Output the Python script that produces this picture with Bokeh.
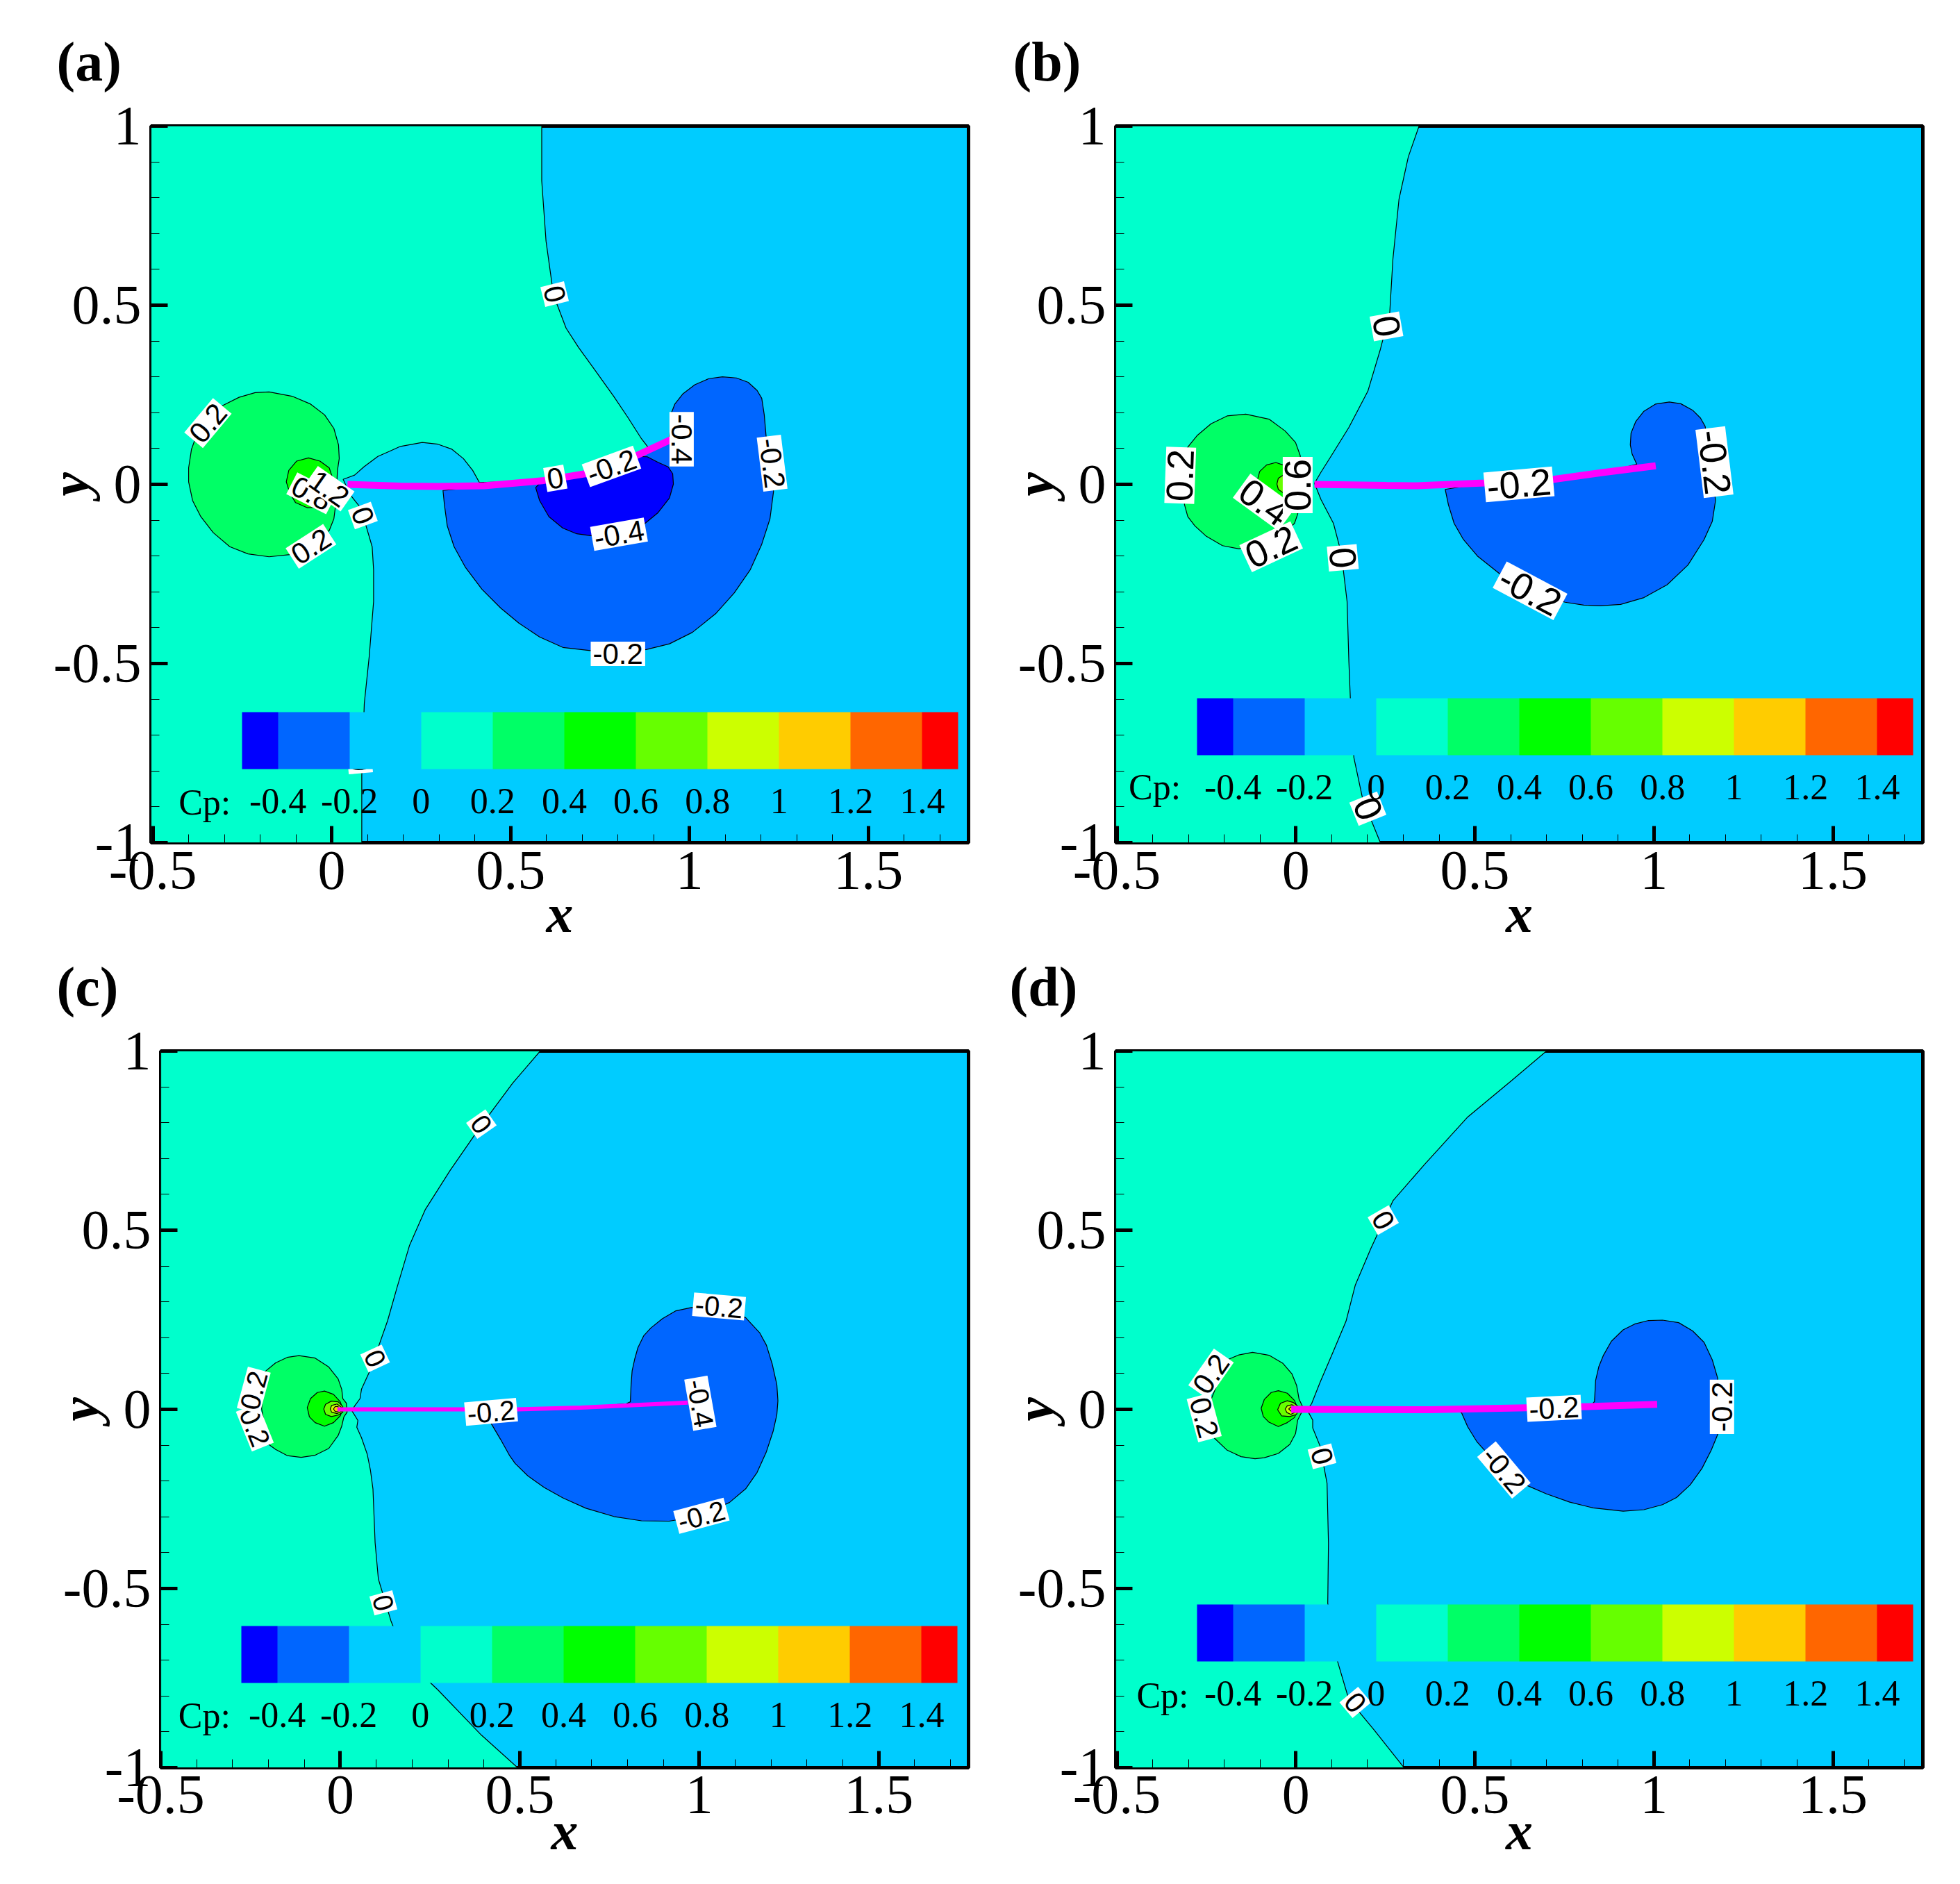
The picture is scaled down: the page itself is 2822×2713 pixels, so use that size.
from bokeh.plotting import figure
from bokeh.layouts import column, row
from bokeh.models import Range1d, FixedTicker, ColorBar, LinearColorMapper, Label
from bokeh.core.properties import value
from bokeh.embed import file_html
from bokeh.resources import INLINE

# ------------------ shared values ------------------
band_colors = {"m04": "#0000ff", "m02": "#0066ff", "0": "#00ccff", "p0": "#00ffcc",
               "02": "#00ff66", "04": "#00ff00", "06": "#66ff00", "08": "#ccff00",
               "10": "#ffcc00", "12": "#ff6600", "14": "#ff0000"}
legend_levels = [-0.4, -0.2, 0, 0.2, 0.4, 0.6, 0.8, 1, 1.2, 1.4]
legend_labels = ["-0.4", "-0.2", "0", "0.2", "0.4", "0.6", "0.8", "1", "1.2", "1.4"]
legend_palette = ["#0000ff", "#0066ff", "#0066ff", "#00ccff", "#00ccff", "#00ffcc", "#00ffcc",
                  "#00ff66", "#00ff66", "#00ff00", "#00ff00", "#66ff00", "#66ff00", "#ccff00",
                  "#ccff00", "#ffcc00", "#ffcc00", "#ff6600", "#ff6600", "#ff0000"]
x_major = [-0.5, 0, 0.5, 1, 1.5]
x_major_labels = ["-0.5", "0", "0.5", "1", "1.5"]
y_major = [-1, -0.5, 0, 0.5, 1]
y_major_labels = ["-1", "-0.5", "0", "0.5", "1"]
x_minor = [-0.4, -0.3, -0.2, -0.1, 0.1, 0.2, 0.3, 0.4, 0.6, 0.7, 0.8, 0.9, 1.1, 1.2, 1.3, 1.4, 1.6, 1.7]
y_minor = [-0.9, -0.8, -0.7, -0.6, -0.4, -0.3, -0.2, -0.1, 0.1, 0.2, 0.3, 0.4, 0.6, 0.7, 0.8, 0.9]

# ------------------ panel (a) ------------------
a_foil = [(0.044, 0), (0.192, -0.005), (0.297, -0.006), (0.426, -0.004), (0.588, 0.01), (0.711, 0.03),
          (0.847, 0.078), (0.944, 0.123), (0.952, 0.126)]
a_zero = [(-0.505, 1), (0.587, 1), (0.587, 0.847), (0.599, 0.679), (0.62, 0.528), (0.655, 0.436), (0.69, 0.382),
          (0.737, 0.317), (0.788, 0.246), (0.827, 0.188), (0.866, 0.127), (0.884, 0.104), (0.847, 0.078),
          (0.711, 0.03), (0.588, 0.01), (0.413, 0.005), (0.394, 0.039), (0.368, 0.072), (0.336, 0.098), (0.297, 0.112),
          (0.253, 0.117), (0.192, 0.106), (0.161, 0.092), (0.129, 0.078),
          (0.09, 0.049), (0.064, 0.026), (0.032, 0.014), (0.051, -0.028), (0.077, -0.061), (0.096, -0.116),
          (0.113, -0.174), (0.117, -0.238), (0.117, -0.327), (0.105, -0.478), (0.091, -0.612),
          (0.084, -0.813), (0.084, -1), (-0.505, -1)]
a_p02 = [(-0.175, 0.258), (-0.111, 0.246), (-0.059, 0.224), (-0.02, 0.194), (0.006, 0.156), (0.019, 0.11),
         (0.021, 0.072), (0.016, 0.039), (0.011, -0.057), (0.006, -0.096), (-0.007, -0.129), (-0.078, -0.18),
         (-0.117, -0.196), (-0.175, -0.202), (-0.234, -0.194), (-0.285, -0.174), (-0.331, -0.135),
         (-0.366, -0.09), (-0.389, -0.045), (-0.4, 0.007), (-0.4, 0.046), (-0.392, 0.098), (-0.376, 0.143),
         (-0.343, 0.188), (-0.305, 0.22), (-0.259, 0.243), (-0.214, 0.256)]
a_p04 = [(-0.127, 0.007), (-0.12, 0.039), (-0.098, 0.065), (-0.065, 0.074), (-0.033, 0.065), (-0.007, 0.046),
         (0.006, 0.007), (-0.001, -0.032), (-0.033, -0.064), (-0.069, -0.065), (-0.101, -0.051), (-0.117, -0.025)]
a_m02 = [(0.311, -0.017), (0.315, -0.057), (0.323, -0.116), (0.342, -0.174), (0.374, -0.232), (0.42, -0.293),
         (0.472, -0.345), (0.523, -0.387), (0.581, -0.426), (0.646, -0.455), (0.723, -0.464), (0.8, -0.467),
         (0.879, -0.461), (0.944, -0.445), (1.008, -0.413), (1.073, -0.361), (1.125, -0.303), (1.17, -0.238),
         (1.202, -0.167), (1.225, -0.096), (1.235, -0.019), (1.222, 0.059), (1.214, 0.136), (1.209, 0.194),
         (1.202, 0.24), (1.189, 0.262), (1.164, 0.285), (1.131, 0.297), (1.092, 0.3), (1.054, 0.295), (1.015, 0.278),
         (0.982, 0.253), (0.959, 0.224), (0.95, 0.201), (0.944, 0.13), (0.847, 0.078), (0.711, 0.03), (0.588, 0.01),
         (0.426, -0.006)]
a_m04 = [(0.57, -0.009), (0.581, -0.045), (0.607, -0.09), (0.646, -0.122), (0.685, -0.138), (0.724, -0.143),
         (0.8, -0.135), (0.872, -0.112), (0.911, -0.08), (0.944, -0.038), (0.955, 0.001), (0.953, 0.03), (0.94, 0.049),
         (0.911, 0.062), (0.882, 0.077), (0.847, 0.078), (0.711, 0.03), (0.588, 0.01)]
a_labels = [("0", 0.623, 0.531, -76), ("0.2", -0.346, 0.171, 50), ("0.2", -0.058, -0.173, 33),
            ("0.8", -0.056, -0.025, -27), ("1.2", -0.007, -0.012, -35), ("0", 0.087, -0.087, -70),
            ("0", 0.079, -0.778, -85), ("0", 0.625, 0.017, 10), ("-0.2", 0.782, 0.05, 20),
            ("-0.4", 0.978, 0.126, -90), ("-0.4", 0.803, -0.139, 10), ("-0.2", 0.8, -0.473, 0),
            ("-0.2", 1.231, 0.059, -83)]

# ------------------ panel (b) ------------------
b_foil = [(0.052, 0), (0.253, -0.003), (0.338, -0.004), (0.526, 0.004), (0.72, 0.014), (0.856, 0.033), (1.005, 0.052)]
b_zero = [(-0.503, 1), (0.344, 1), (0.314, 0.914), (0.288, 0.796), (0.271, 0.629), (0.262, 0.478), (0.236, 0.377),
          (0.201, 0.26), (0.148, 0.159), (0.096, 0.075), (0.07, 0.034), (0.052, 0.003), (0.07, -0.042),
          (0.105, -0.109), (0.127, -0.193), (0.143, -0.327), (0.148, -0.495), (0.152, -0.595), (0.162, -0.763),
          (0.187, -0.88), (0.236, -1), (-0.503, -1)]
b_p02 = [(-0.14, 0.196), (-0.075, 0.182), (-0.03, 0.149), (-0.001, 0.117), (0.012, 0.081), (0.018, 0.001),
         (0.005, -0.083), (-0.004, -0.109), (-0.061, -0.159), (-0.159, -0.18), (-0.205, -0.171), (-0.25, -0.145),
         (-0.282, -0.116), (-0.302, -0.09), (-0.311, -0.057), (-0.318, 0.001), (-0.302, 0.104), (-0.276, 0.136),
         (-0.237, 0.169), (-0.192, 0.191)]
b_p04 = [(-0.109, 0.007), (-0.101, 0.036), (-0.082, 0.054), (-0.056, 0.061), (-0.03, 0.052), (-0.01, 0.02),
         (-0.01, -0.03), (-0.037, -0.045), (-0.07, -0.05), (-0.101, -0.03)]
b_p06 = [(-0.053, 0.001), (-0.049, 0.017), (-0.035, 0.026), (-0.015, 0.02), (-0.015, -0.02), (-0.035, -0.024),
         (-0.049, -0.014)]
b_m02 = [(0.417, -0.014), (0.426, -0.057), (0.442, -0.109), (0.468, -0.154), (0.507, -0.2), (0.571, -0.251),
         (0.66, -0.3), (0.752, -0.329), (0.804, -0.337), (0.849, -0.339), (0.907, -0.335), (0.972, -0.316),
         (1.037, -0.28), (1.095, -0.225), (1.14, -0.154), (1.163, -0.103), (1.172, -0.045), (1.16, 0.052), (1.143, 0.162),
         (1.13, 0.185), (1.108, 0.207), (1.075, 0.225), (1.043, 0.23), (1.004, 0.224), (0.972, 0.204), (0.949, 0.175),
         (0.936, 0.143), (0.934, 0.11), (0.939, 0.085), (0.952, 0.056), (0.856, 0.033), (0.72, 0.014), (0.526, 0.004)]
b_labels = [("0", 0.253, 0.441, -80), ("0.2", -0.323, 0.025, 88), ("0.2", -0.069, -0.174, 25),
            ("0.4", -0.088, -0.05, -36), ("0.6", 0.005, -0.002, 90), ("0", 0.131, -0.205, -85),
            ("0", 0.201, -0.905, -68), ("-0.2", 0.623, 0, 5), ("-0.2", 0.654, -0.297, -28),
            ("-0.2", 1.169, 0.062, -83)]

# ------------------ panel (c) ------------------
c_foil = [(-0.008, 0), (0.272, 0), (0.491, 0), (0.671, 0.005), (0.968, 0.019)]
c_zero = [(-0.5, 1), (0.557, 1), (0.48, 0.91), (0.393, 0.793), (0.306, 0.667), (0.237, 0.558), (0.193, 0.458),
          (0.158, 0.34), (0.132, 0.248), (0.097, 0.148), (0.084, 0.111), (0.059, 0.056), (0.055, 0.03), (0.039, 0.008),
          (0.033, -0.005), (0.049, -0.031), (0.046, -0.05), (0.059, -0.079), (0.075, -0.125), (0.084, -0.17),
          (0.091, -0.222), (0.097, -0.372), (0.106, -0.473), (0.141, -0.59), (0.185, -0.7), (0.272, -0.783),
          (0.393, -0.909), (0.494, -1), (-0.5, -1)]
c_p02 = [(-0.215, 0.101), (-0.18, 0.13), (-0.148, 0.145), (-0.115, 0.15), (-0.07, 0.143), (-0.032, 0.118),
         (-0.006, 0.085), (0.004, 0.056), (0.007, 0.03), (0.017, 0.017), (0.019, -0.008), (0.01, -0.021),
         (0.004, -0.047), (-0.006, -0.073), (-0.032, -0.109), (-0.07, -0.128), (-0.109, -0.134), (-0.148, -0.129),
         (-0.18, -0.112), (-0.202, -0.096), (-0.219, 0.001)]
c_p04 = [(-0.092, 0.005), (-0.083, 0.03), (-0.064, 0.047), (-0.044, 0.051), (-0.019, 0.042), (0, 0.021), (0.007, 0.001),
         (0, -0.018), (-0.019, -0.037), (-0.044, -0.047), (-0.07, -0.037), (-0.086, -0.021)]
c_p06 = [(-0.046, 0.001), (-0.041, 0.014), (-0.025, 0.023), (-0.006, 0.021), (0.007, 0.008), (0.007, -0.008),
         (-0.006, -0.016), (-0.025, -0.02), (-0.041, -0.014)]
c_p08 = [(-0.028, 0.001), (-0.024, 0.011), (-0.009, 0.015), (0.004, 0.005), (0.004, -0.005), (-0.009, -0.012),
         (-0.024, -0.008)]
c_p10 = [(-0.019, 0.001), (-0.014, 0.008), (-0.006, 0.008), (-0.006, -0.007), (-0.014, -0.006)]
c_m02 = [(0.42, -0.039), (0.446, -0.083), (0.471, -0.128), (0.487, -0.151), (0.523, -0.186), (0.568, -0.218),
         (0.62, -0.247), (0.684, -0.276), (0.762, -0.299), (0.839, -0.311), (0.916, -0.312), (1.0, -0.298), (1.084, -0.26),
         (1.129, -0.222), (1.161, -0.176), (1.187, -0.118), (1.206, -0.06), (1.216, -0.015), (1.219, 0.024), (1.216, 0.069),
         (1.203, 0.127), (1.187, 0.179), (1.168, 0.214), (1.129, 0.256), (1.058, 0.282), (0.978, 0.284), (0.935, 0.275),
         (0.897, 0.253), (0.865, 0.227), (0.845, 0.205), (0.829, 0.172), (0.82, 0.14), (0.813, 0.108), (0.81, 0.069),
         (0.808, 0.021), (0.797, 0.016), (0.671, 0.005), (0.4, 0)]
c_labels = [("0", 0.393, 0.796, -55), ("0", 0.097, 0.142, -65), ("0", 0.12, -0.54, -75), ("-0.2", 1.055, 0.287, -5),
            ("-0.2", 0.42, -0.007, 5), ("-0.4", 1.003, 0.017, -80), ("-0.2", 1.006, -0.297, 15),
            ("0.2", -0.238, -0.05, -68), ("0.2", -0.241, 0.053, 75)]

# ------------------ panel (d) ------------------
d_foil = [(-0.013, 0), (0.377, -0.001), (0.571, 0.003), (0.83, 0.008), (1.009, 0.014)]
d_zero = [(-0.503, 1), (0.7, 1), (0.602, 0.917), (0.48, 0.816), (0.358, 0.682), (0.271, 0.582), (0.209, 0.448),
          (0.166, 0.347), (0.14, 0.246), (0.105, 0.163), (0.067, 0.074), (0.044, 0.016), (0.035, 0.003),
          (0.036, -0.01), (0.047, -0.03), (0.047, -0.052), (0.067, -0.101), (0.087, -0.206), (0.091, -0.374),
          (0.089, -0.541), (0.113, -0.692), (0.148, -0.81), (0.218, -0.894), (0.302, -1), (-0.503, -1)]
d_p02 = [(-0.192, 0.138), (-0.159, 0.152), (-0.121, 0.159), (-0.075, 0.151), (-0.037, 0.129), (-0.011, 0.099),
         (0.002, 0.067), (0.009, 0.028), (0.018, 0.009), (0.015, -0.01), (0.005, -0.03), (-0.001, -0.068),
         (-0.017, -0.098), (-0.049, -0.123), (-0.088, -0.135), (-0.114, -0.138), (-0.153, -0.132), (-0.192, -0.114),
         (-0.227, -0.081), (-0.245, 0.0), (-0.234, 0.035)]
d_p04 = [(-0.097, 0.003), (-0.088, 0.028), (-0.069, 0.047), (-0.049, 0.052), (-0.024, 0.045), (-0.004, 0.025),
         (0.006, 0.0), (-0.004, -0.023), (-0.024, -0.037), (-0.049, -0.048), (-0.075, -0.036), (-0.091, -0.02)]
d_p06 = [(-0.051, -0.001), (-0.043, 0.017), (-0.024, 0.024), (-0.007, 0.019), (0.009, 0.006), (0.002, -0.014),
         (-0.017, -0.02), (-0.04, -0.018)]
d_p08 = [(-0.03, 0.001), (-0.024, 0.01), (-0.011, 0.013), (-0.001, 0.006), (-0.001, -0.007), (-0.014, -0.014),
         (-0.025, -0.009)]
d_p10 = [(-0.02, 0.001), (-0.014, 0.007), (-0.005, 0.005), (-0.011, -0.007)]
d_m02 = [(0.463, -0.01), (0.48, -0.049), (0.506, -0.091), (0.532, -0.12), (0.649, -0.214), (0.7, -0.236), (0.765, -0.259),
         (0.83, -0.275), (0.914, -0.284), (0.972, -0.28), (1.024, -0.266), (1.063, -0.246), (1.101, -0.211), (1.134, -0.165),
         (1.16, -0.114), (1.179, -0.068), (1.182, 0.009), (1.178, 0.087), (1.163, 0.138), (1.14, 0.187), (1.108, 0.219),
         (1.069, 0.242), (1.024, 0.249), (0.985, 0.248), (0.946, 0.238), (0.914, 0.222), (0.881, 0.19), (0.859, 0.151),
         (0.846, 0.119), (0.837, 0.08), (0.834, 0.022), (0.83, 0.017), (0.83, 0.008), (0.571, 0.003), (0.45, 0)]
d_labels = [("0", 0.244, 0.528, -60), ("0", 0.073, -0.131, -75), ("0", 0.166, -0.818, -50), ("-0.2", 0.721, 0.003, 3),
            ("-0.2", 0.581, -0.169, -50), ("-0.2", 1.19, 0.007, 90), ("0.2", -0.237, 0.099, 55),
            ("0.2", -0.256, -0.023, -75)]


def panel(name, name_off, xr, regions, foil, foil_w, labels, label_px, cp_xy, bar_xy,
          w, h, borders, tick_so, lab_so, border_alpha):
    left, right, top, bottom = borders
    p = figure(title=name, width=w, height=h, x_range=Range1d(*xr), y_range=Range1d(-1, 1),
               output_backend="svg", toolbar_location=None,
               min_border_left=left, min_border_right=right, min_border_top=top, min_border_bottom=bottom,
               background_fill_color=band_colors["0"], border_fill_color="white", border_fill_alpha=border_alpha, tools="")
    p.title.text_font = "Liberation Serif"
    p.title.text_font_size = "80px"
    p.title.text_font_style = "bold"
    p.title.text_color = "black"
    p.title.align = "left"
    p.title.offset = name_off
    p.title.standoff = 98
    p.grid.visible = False
    p.outline_line_color = "black"
    p.outline_line_width = 5
    for ax, maj, lab, mnr, txt in ((p.xaxis[0], x_major, x_major_labels, x_minor, "x"),
                                   (p.yaxis[0], y_major, y_major_labels, y_minor, "y")):
        ax.ticker = FixedTicker(ticks=maj, minor_ticks=mnr)
        ax.major_label_overrides = dict(zip(maj, lab))
        ax.major_label_text_font = "Liberation Serif"
        ax.major_label_text_font_size = "80px"
        ax.major_label_text_color = "black"
        ax.major_tick_in = 24
        ax.major_tick_out = 0
        ax.minor_tick_in = 12
        ax.minor_tick_out = 0
        ax.major_tick_line_width = 5
        ax.minor_tick_line_width = 1
        ax.axis_line_color = None
        ax.axis_label = txt
        ax.axis_label_text_font = "Liberation Serif"
        ax.axis_label_text_font_style = "bold italic"
        ax.axis_label_text_font_size = "78px"
        ax.axis_label_text_color = "black"
    p.xaxis[0].major_label_standoff = tick_so
    p.xaxis[0].axis_label_standoff = lab_so
    p.yaxis[0].major_label_standoff = 14
    p.yaxis[0].major_label_orientation = "horizontal"
    p.yaxis[0].axis_label_standoff = -70

    for pts, col in regions:
        xs, ys = zip(*pts)
        p.patch(list(xs), list(ys), fill_color=col, line_color="black", line_width=1.2)
    fx, fy = zip(*foil)
    p.line(list(fx), list(fy), line_color="#ff00ff", line_width=foil_w)

    txt, lx, ly, ang = zip(*labels)
    p.text(list(lx), list(ly), text=list(txt), angle=list(ang), angle_units="deg",
           text_font=value("Liberation Sans"), text_font_size=label_px, text_color="black",
           text_align="center", text_baseline="middle", background_fill_color="white", padding=3)

    mapper = LinearColorMapper(palette=legend_palette, low=-0.5, high=1.5)
    cb = ColorBar(color_mapper=mapper, location=bar_xy, orientation="horizontal", width=1031, height=82,
                  padding=0, margin=0, background_fill_alpha=0, border_line_color=None, bar_line_color=None,
                  ticker=FixedTicker(ticks=legend_levels), major_tick_line_color=None, minor_tick_line_color=None,
                  major_label_overrides=dict(zip(legend_levels, legend_labels)),
                  major_label_text_font="Liberation Serif", major_label_text_font_size="52px",
                  major_label_text_color="black", label_standoff=28)
    p.add_layout(cb, "center")

    p.add_layout(Label(x=cp_xy[0], y=cp_xy[1], text="Cp:", text_font="Liberation Serif", text_font_size="52px",
                       text_baseline="middle", text_color="black"))
    return p


pa = panel("(a)", -136, (-0.505, 1.78), [(a_zero, band_colors["p0"]), (a_p02, band_colors["02"]), (a_p04, band_colors["04"]),
                                         (a_m02, band_colors["m02"]), (a_m04, band_colors["m04"])],
           a_foil, 10, a_labels, "42px", (-0.428, -0.888), (131, 40), 1411, 1390, (217, 17, 201, 157), 13, -11, 1)
pb = panel("(b)", -148, (-0.503, 1.751), [(b_zero, band_colors["p0"]), (b_p02, band_colors["02"]), (b_p04, band_colors["04"]),
                                          (b_p06, band_colors["06"]), (b_m02, band_colors["m02"])],
           b_foil, 10, b_labels, "54px", (-0.467, -0.845), (117, 60), 1411, 1390, (195, 54, 201, 157), 13, -11, 1)
pc = panel("(c)", -150, (-0.5, 1.75), [(c_zero, band_colors["p0"]), (c_p02, band_colors["02"]), (c_p04, band_colors["04"]),
                                       (c_p06, band_colors["06"]), (c_p08, band_colors["08"]), (c_p10, band_colors["10"]),
                                       (c_m02, band_colors["m02"])],
           c_foil, 6, c_labels, "40px", (-0.451, -0.855), (116, 56), 1411, 1395, (231, 17, 195, 168), 12, -21, 0)
pd = panel("(d)", -153, (-0.503, 1.751), [(d_zero, band_colors["p0"]), (d_p02, band_colors["02"]), (d_p04, band_colors["04"]),
                                          (d_p06, band_colors["06"]), (d_p08, band_colors["08"]), (d_p10, band_colors["10"]),
                                          (d_m02, band_colors["m02"])],
           d_foil, 10, d_labels, "42px", (-0.445, -0.798), (117, 87), 1411, 1395, (195, 54, 195, 168), 12, -21, 0)

layout = column(row(pa, pb, spacing=0, margin=(-20, 0, 0, 0)), row(pc, pd, spacing=0, margin=(-52, 0, 0, 0)), spacing=0)
open("out.html", "w").write(file_html(layout, INLINE))
